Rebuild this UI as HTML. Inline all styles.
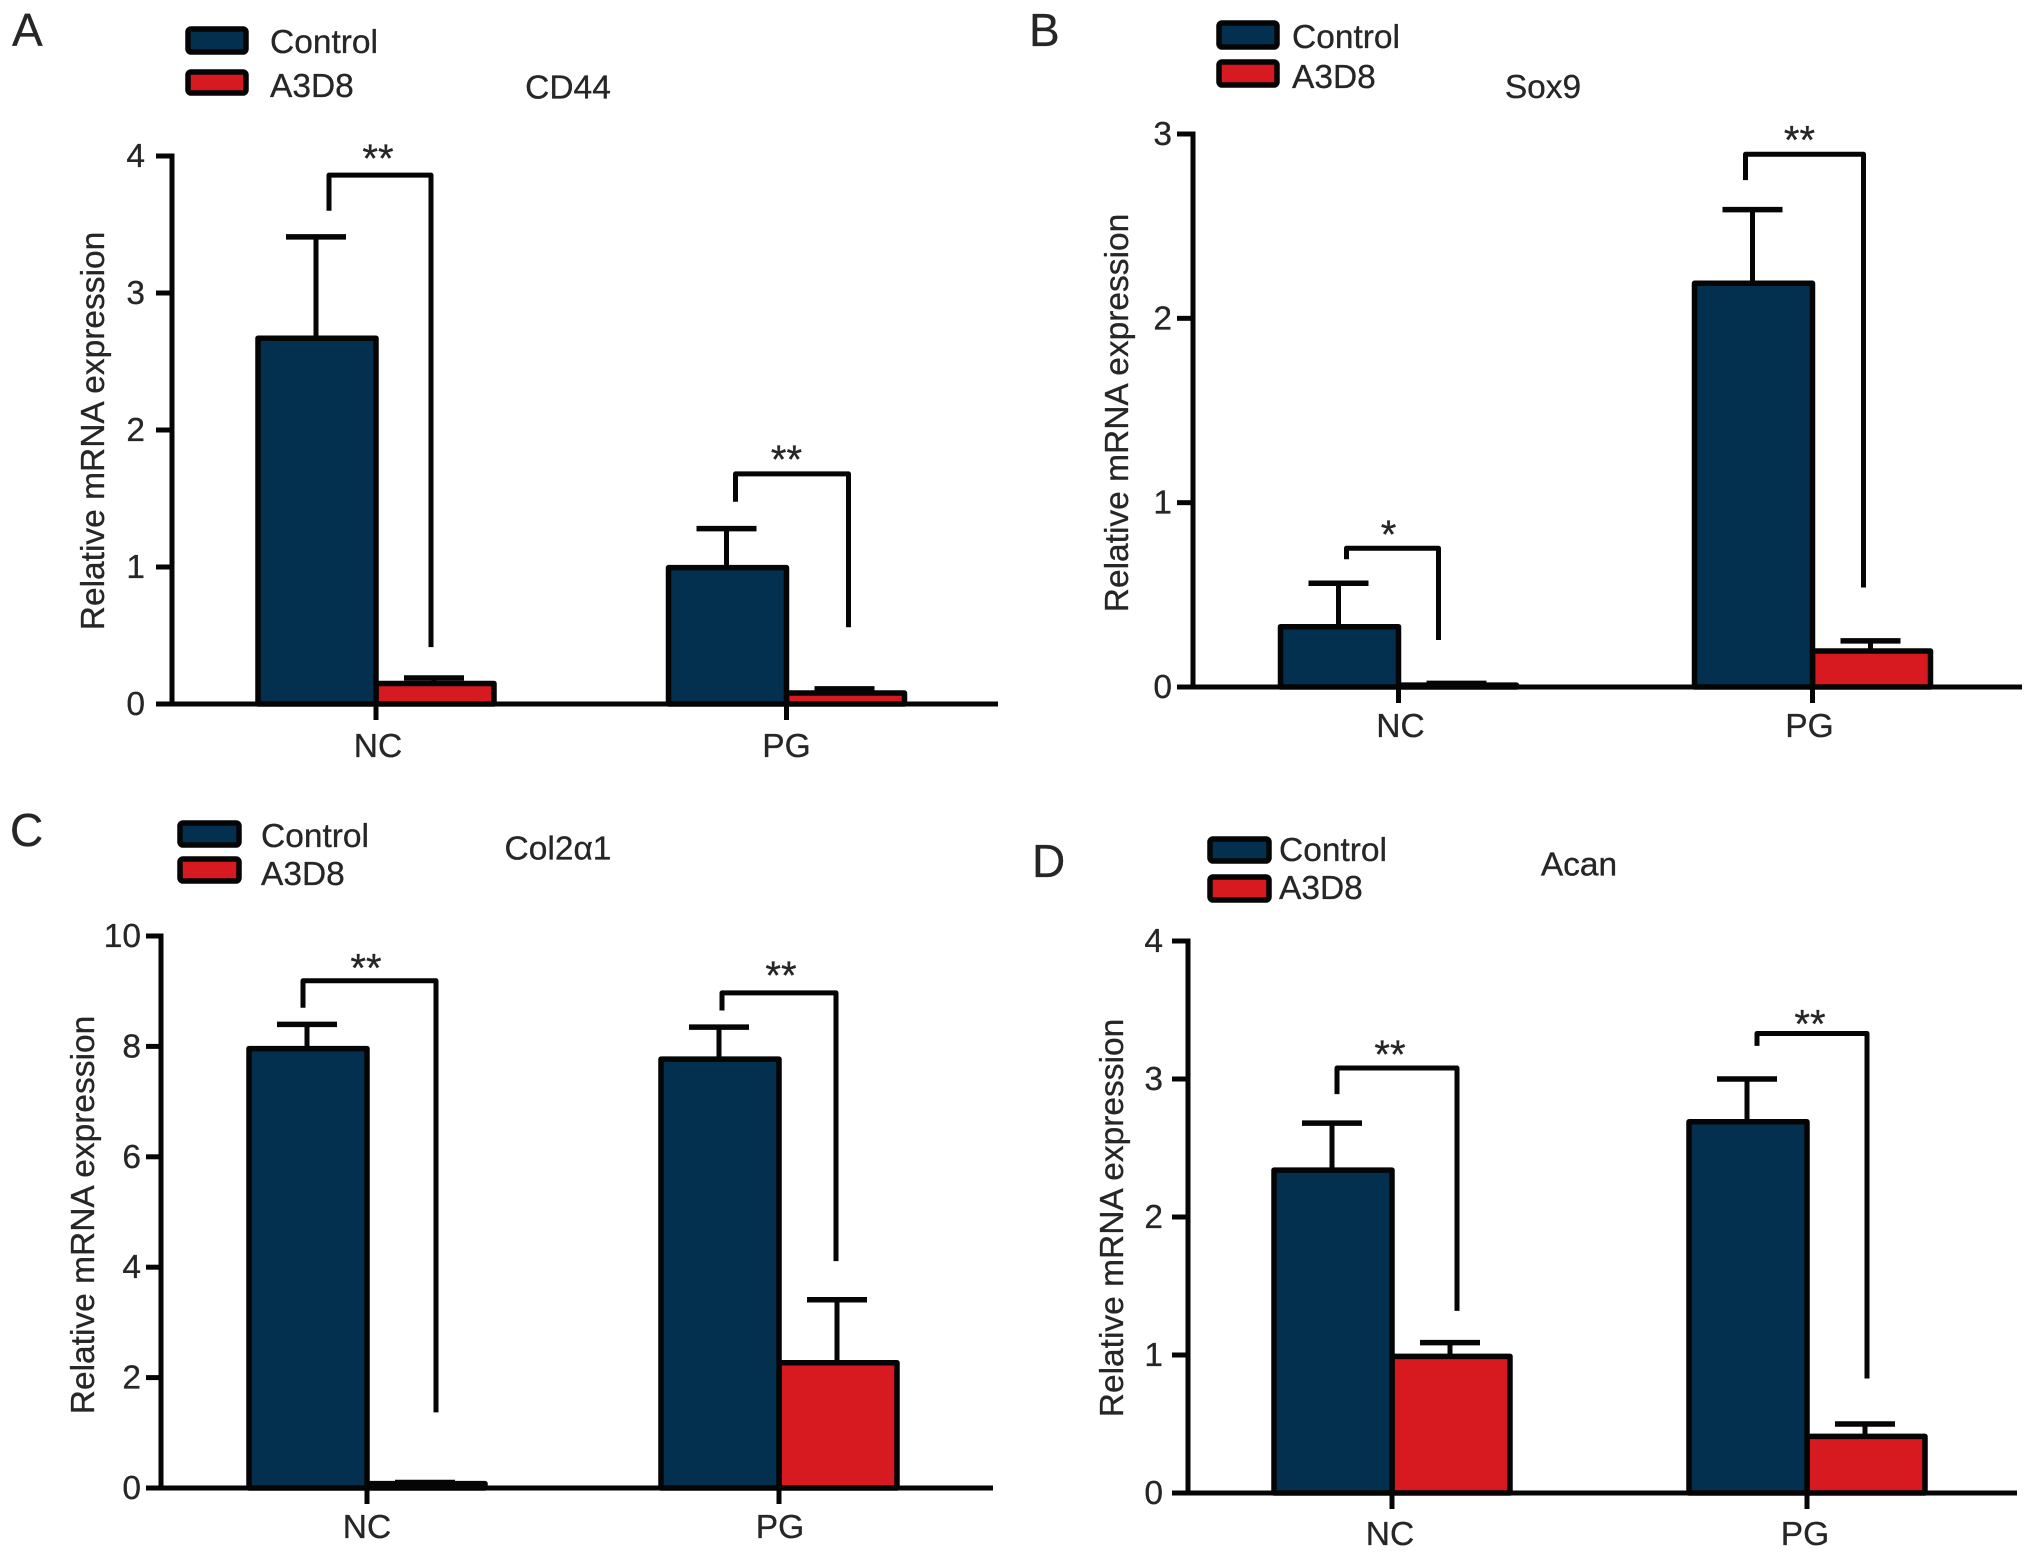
<!DOCTYPE html>
<html lang="en">
<head>
<meta charset="utf-8">
<title>Relative mRNA expression panels</title>
<style>
html,body{margin:0;padding:0;background:#fff;}
svg{display:block;font-family:"Liberation Sans",Arial,sans-serif;}
text{fill:#262626;stroke:#262626;stroke-width:0.3px;}
</style>
</head>
<body>
<svg id="figure" xmlns="http://www.w3.org/2000/svg" width="2032" height="1559" viewBox="0 0 2032 1559"></svg>
<script>
const categories = ['NC', 'PG'];
const seriesNames = ['Control', 'A3D8'];

const cd44Ticks = [0, 1, 2, 3, 4];
const cd44Control = [2.67, 0.995];
const cd44ControlUpper = [3.41, 1.28];
const cd44Treated = [0.15, 0.08];
const cd44TreatedUpper = [0.19, 0.11];
const cd44BracketLeft = [3.6, 1.476];
const cd44BracketTop = [3.86, 1.68];
const cd44BracketRight = [0.415, 0.56];
const cd44Stars = ['**', '**'];

const sox9Ticks = [0, 1, 2, 3];
const sox9Control = [0.327, 2.19];
const sox9ControlUpper = [0.563, 2.59];
const sox9Treated = [0.01, 0.195];
const sox9TreatedUpper = [0.02, 0.25];
const sox9BracketLeft = [0.693, 2.75];
const sox9BracketTop = [0.753, 2.89];
const sox9BracketRight = [0.255, 0.54];
const sox9Stars = ['*', '**'];

const colTicks = [0, 2, 4, 6, 8, 10];
const colControl = [7.96, 7.77];
const colControlUpper = [8.4, 8.35];
const colTreated = [0.08, 2.27];
const colTreatedUpper = [0.1, 3.41];
const colBracketLeft = [8.7, 8.65];
const colBracketTop = [9.19, 8.97];
const colBracketRight = [1.37, 4.11];
const colStars = ['**', '**'];

const acanTicks = [0, 1, 2, 3, 4];
const acanControl = [2.34, 2.69];
const acanControlUpper = [2.68, 3.0];
const acanTreated = [0.99, 0.41];
const acanTreatedUpper = [1.09, 0.5];
const acanBracketLeft = [2.89, 3.24];
const acanBracketTop = [3.08, 3.33];
const acanBracketRight = [1.32, 0.83];
const acanStars = ['**', '**'];

const panels = [
  {id:'a', letter:'A', title:'CD44', ticks:cd44Ticks, control:cd44Control, controlUp:cd44ControlUpper, treated:cd44Treated, treatedUp:cd44TreatedUpper,
   bLeft:cd44BracketLeft, bTop:cd44BracketTop, bRight:cd44BracketRight, stars:cd44Stars,
   layout:{axisX:172, plotTop:156, plotBottom:704, xStart:156, xEnd:998, first:376, step:410.5, labelY:757, labelDx:[2,0], tickGap:11,
     brL:[-47,-51], brR:[55,62], starX:[2,0], starDy:[-3,-1], titleX:568, titleY:98.5, yTitleX:92, yTitleY:431,
     letterX:12, letterY:46, swatchX:188, swatchW:58, sw1Y:29, sw1H:23, sw2Y:72, sw2H:21, textX:270, text1Y:53, text2Y:97}},
  {id:'b', letter:'B', title:'Sox9', ticks:sox9Ticks, control:sox9Control, controlUp:sox9ControlUpper, treated:sox9Treated, treatedUp:sox9TreatedUpper,
   bLeft:sox9BracketLeft, bTop:sox9BracketTop, bRight:sox9BracketRight, stars:sox9Stars,
   layout:{axisX:1193, plotTop:134, plotBottom:687, xStart:1177, xEnd:2022, first:1398.5, step:414, labelY:737, labelDx:[2,-3], tickGap:5,
     brL:[-52,-67], brR:[40,51], starX:[-10,-13], starDy:[0,-1], titleX:1543, titleY:98, yTitleX:1116, yTitleY:413,
     letterX:1029, letterY:46, swatchX:1219, swatchW:58, sw1Y:23, sw1H:24, sw2Y:62, sw2H:23, textX:1292, text1Y:48, text2Y:88}},
  {id:'c', letter:'C', title:'Col2\u03b11', ticks:colTicks, control:colControl, controlUp:colControlUpper, treated:colTreated, treatedUp:colTreatedUpper,
   bLeft:colBracketLeft, bTop:colBracketTop, bRight:colBracketRight, stars:colStars,
   layout:{axisX:161, plotTop:936, plotBottom:1488, xStart:146, xEnd:993, first:367, step:412, labelY:1538, labelDx:[0,1], tickGap:5,
     brL:[-64,-57], brR:[69,57], starX:[-1,2], starDy:[1,-4], titleX:558, titleY:859.5, yTitleX:82, yTitleY:1215,
     letterX:10, letterY:846, swatchX:180, swatchW:59, sw1Y:823, sw1H:22, sw2Y:859, sw2H:22, textX:261, text1Y:847, text2Y:885}},
  {id:'d', letter:'D', title:'Acan', ticks:acanTicks, control:acanControl, controlUp:acanControlUpper, treated:acanTreated, treatedUp:acanTreatedUpper,
   bLeft:acanBracketLeft, bTop:acanBracketTop, bRight:acanBracketRight, stars:acanStars,
   layout:{axisX:1188, plotTop:941, plotBottom:1493, xStart:1172, xEnd:2017, first:1392, step:415, labelY:1545, labelDx:[-2,-2], tickGap:9,
     brL:[-55,-50], brR:[65,60], starX:[-2,3], starDy:[0,4], titleX:1579, titleY:875.5, yTitleX:1111, yTitleY:1218,
     letterX:1032, letterY:877, swatchX:1210, swatchW:59, sw1Y:839, sw1H:22, sw2Y:877, sw2H:23, textX:1279, text1Y:861, text2Y:899}}
];

const NS = 'http://www.w3.org/2000/svg';
const INK = '#050505';
const NAVY = '#03304f';
const RED = '#d71920';
const FONT = 33.5;
const STAR_FONT = 40;
const BAR_STROKE = 5.5;
const LINE_STROKE = 5;
const figure = document.getElementById('figure');

function make(tag, parent) {
  const el = document.createElementNS(NS, tag);
  parent.appendChild(el);
  return el;
}
function line(parent, x1, y1, x2, y2, w) {
  const el = make('line', parent);
  el.setAttribute('x1', x1);
  el.setAttribute('y1', y1);
  el.setAttribute('x2', x2);
  el.setAttribute('y2', y2);
  el.setAttribute('stroke', INK);
  el.setAttribute('stroke-width', w);
  return el;
}
function rect(parent, x, y, w, h, fill, sw, rx) {
  const el = make('rect', parent);
  el.setAttribute('x', x);
  el.setAttribute('y', y);
  el.setAttribute('width', w);
  el.setAttribute('height', h);
  el.setAttribute('fill', fill);
  el.setAttribute('stroke', INK);
  el.setAttribute('stroke-width', sw);
  el.setAttribute('stroke-linejoin', 'round');
  if (rx) el.setAttribute('rx', rx);
  return el;
}
function label(parent, x, y, str, size, anchor) {
  const el = make('text', parent);
  el.setAttribute('x', x);
  el.setAttribute('y', y);
  el.setAttribute('font-size', size);
  el.setAttribute('text-anchor', anchor);
  el.textContent = str;
  return el;
}

panels.forEach(function (p) {
  const L = p.layout;
  const max = p.ticks[p.ticks.length - 1];
  const yScale = function (v) { return L.plotBottom - (v / max) * (L.plotBottom - L.plotTop); };
  const xScale = function (i) { return L.first + i * L.step; };

  const g = make('g', figure);
  
  

  const letter = label(g, L.letterX, L.letterY, p.letter, 46, 'start');
  
  

  const title = label(g, L.titleX, L.titleY, p.title, FONT, 'middle');
  
  

  const yTitle = label(g, 0, 0, 'Relative mRNA expression', FONT, 'middle');
  yTitle.setAttribute('transform', 'translate(' + (L.yTitleX + 12) + ',' + L.yTitleY + ') rotate(-90)');
  
  

  // legend
  const sw1 = rect(g, L.swatchX, L.sw1Y, L.swatchW, L.sw1H, NAVY, BAR_STROKE, 3);
  
  
  const sw2 = rect(g, L.swatchX, L.sw2Y, L.swatchW, L.sw2H, RED, BAR_STROKE, 3);
  
  
  const t1 = label(g, L.textX, L.text1Y, seriesNames[0], FONT, 'start');
  
  
  const t2 = label(g, L.textX, L.text2Y, seriesNames[1], FONT, 'start');
  
  

  // y ticks
  p.ticks.forEach(function (t) {
    const tick = line(g, L.xStart, yScale(t), L.axisX, yScale(t), LINE_STROKE);
    
    
    const tl = label(g, L.xStart - L.tickGap, yScale(t) + 11, String(t), FONT, 'end');
    
    
  });

  // bars and error bars
  const barW = 118;
  categories.forEach(function (c, i) {
    const cx = xScale(i);
    const mid0 = cx - barW / 2 - 1;
    const mid1 = cx + barW / 2 - 1;

    const e0 = line(g, mid0, yScale(p.controlUp[i]), mid0, yScale(p.control[i]), LINE_STROKE);
    
    
    const c0 = line(g, mid0 - 30, yScale(p.controlUp[i]), mid0 + 30, yScale(p.controlUp[i]), BAR_STROKE);
    
    

    const e1 = line(g, mid1, yScale(p.treatedUp[i]), mid1, yScale(p.treated[i]), LINE_STROKE);
    
    
    const c1 = line(g, mid1 - 30, yScale(p.treatedUp[i]), mid1 + 30, yScale(p.treatedUp[i]), BAR_STROKE);
    
    

    const b1 = rect(g, cx, yScale(p.treated[i]), barW, yScale(0) - yScale(p.treated[i]), RED, BAR_STROKE);
    
    
    const b0 = rect(g, cx - barW, yScale(p.control[i]), barW, yScale(0) - yScale(p.control[i]), NAVY, BAR_STROKE);
    
    

    const tick = line(g, cx, yScale(0), cx, yScale(0) + 16, LINE_STROKE);
    
    
    const tl = label(g, cx + L.labelDx[i], L.labelY, c, FONT, 'middle');
    
    

    // significance bracket
    const xl = cx + L.brL[i];
    const xr = cx + L.brR[i];
    const br = make('path', g);
    br.setAttribute('d', 'M' + xl + ' ' + yScale(p.bLeft[i]) + 'V' + yScale(p.bTop[i]) + 'H' + xr + 'V' + yScale(p.bRight[i]));
    br.setAttribute('fill', 'none');
    br.setAttribute('stroke', INK);
    br.setAttribute('stroke-width', LINE_STROKE);
    br.setAttribute('stroke-linejoin', 'round');
    
    
    const st = label(g, cx + L.starX[i], yScale(p.bTop[i]) + L.starDy[i], p.stars[i], STAR_FONT, 'middle');
    
    
  });

  // axes
  const yAxis = line(g, L.axisX, L.plotTop - 2.5, L.axisX, yScale(0) + 2.5, LINE_STROKE);
  
  
  const xAxis = line(g, L.xStart, yScale(0), L.xEnd, yScale(0), LINE_STROKE);
  
  
});
</script>
</body>
</html>
